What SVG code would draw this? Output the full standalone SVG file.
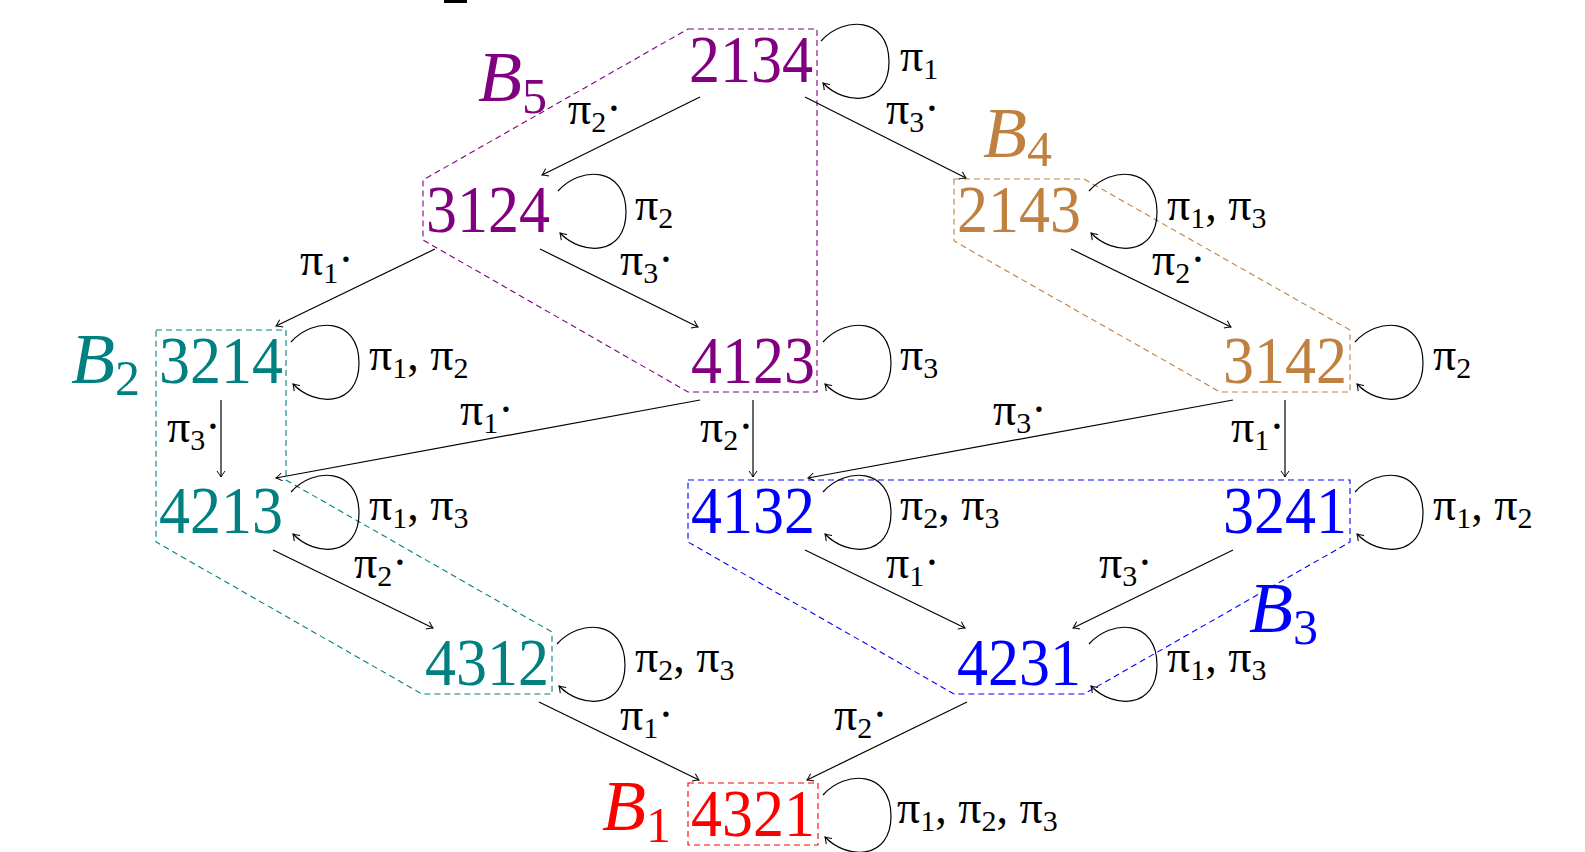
<svg xmlns="http://www.w3.org/2000/svg" width="1585" height="852" viewBox="0 0 1585 852">
<style>
.n{font-family:"Liberation Serif","Times New Roman",serif;font-size:68px;text-anchor:middle}
.l{font-family:"Liberation Serif","Times New Roman",serif;font-size:46px;fill:#000}
.s{font-size:30px}
.B{font-family:"Liberation Serif","Times New Roman",serif;font-size:72px;font-style:italic}
.bs{font-size:50px;font-style:normal}
.e{fill:none;stroke:#000;stroke-width:1.2;marker-end:url(#ah)}
.r{fill:none;stroke-width:1.1;stroke-dasharray:6 4}
</style>
<defs>
<marker id="ah" viewBox="-8 -5 10 10" refX="0" refY="0" markerWidth="10" markerHeight="10" orient="auto" markerUnits="userSpaceOnUse">
<path d="M-6,-4 Q-2,-1 0,0 Q-2,1 -6,4" fill="none" stroke="#000" stroke-width="1"/>
</marker>
</defs>
<rect x="444" y="0" width="23" height="3" fill="#000"/>

<g id="region-B5">
<path class="r" stroke="#800080" d="M688,29 L817,29 L817,392 L688,392 L423,240 L423,180 Z"/>
<text class="B" x="478" y="101" fill="#800080">B<tspan class="bs" dy="12">5</tspan></text>
</g>
<g id="region-B4">
<path class="r" stroke="#BF8040" d="M954,179 L1084,179 L1350,330 L1350,392 L1220,392 L954,241 Z"/>
<text class="B" x="983" y="157" fill="#BF8040">B<tspan class="bs" dy="9">4</tspan></text>
</g>
<g id="region-B2">
<path class="r" stroke="#008080" d="M156,330 L286,330 L286,480 L552,632 L552,694 L422,694 L156,542 Z"/>
<text class="B" x="71" y="383" fill="#008080">B<tspan class="bs" dy="12">2</tspan></text>
</g>
<g id="region-B3">
<path class="r" stroke="#0000FF" d="M688,480 L1350,480 L1350,542 L1084,694 L954,694 L688,542 Z"/>
<text class="B" x="1249" y="632" fill="#0000FF">B<tspan class="bs" dy="12">3</tspan></text>
</g>
<g id="region-B1">
<path class="r" stroke="#FF0000" d="M688,783 L818,783 L818,845 L688,845 Z"/>
<text class="B" x="602" y="830" fill="#FF0000">B<tspan class="bs" dy="12">1</tspan></text>
</g>

<g id="n2134"><text class="n" x="751" y="82" fill="#800080" textLength="124" lengthAdjust="spacingAndGlyphs">2134</text></g>
<g id="n3124"><text class="n" x="488" y="232" fill="#800080" textLength="124" lengthAdjust="spacingAndGlyphs">3124</text></g>
<g id="n2143"><text class="n" x="1019" y="232" fill="#BF8040" textLength="124" lengthAdjust="spacingAndGlyphs">2143</text></g>
<g id="n3214"><text class="n" x="221" y="383" fill="#008080" textLength="124" lengthAdjust="spacingAndGlyphs">3214</text></g>
<g id="n4123"><text class="n" x="753" y="383" fill="#800080" textLength="124" lengthAdjust="spacingAndGlyphs">4123</text></g>
<g id="n3142"><text class="n" x="1285" y="383" fill="#BF8040" textLength="124" lengthAdjust="spacingAndGlyphs">3142</text></g>
<g id="n4213"><text class="n" x="221" y="533" fill="#008080" textLength="124" lengthAdjust="spacingAndGlyphs">4213</text></g>
<g id="n4132"><text class="n" x="753" y="533" fill="#0000FF" textLength="124" lengthAdjust="spacingAndGlyphs">4132</text></g>
<g id="n3241"><text class="n" x="1285" y="533" fill="#0000FF" textLength="124" lengthAdjust="spacingAndGlyphs">3241</text></g>
<g id="n4312"><text class="n" x="487" y="685" fill="#008080" textLength="124" lengthAdjust="spacingAndGlyphs">4312</text></g>
<g id="n4231"><text class="n" x="1019" y="685" fill="#0000FF" textLength="124" lengthAdjust="spacingAndGlyphs">4231</text></g>
<g id="n4321"><text class="n" x="753" y="836" fill="#FF0000" textLength="124" lengthAdjust="spacingAndGlyphs">4321</text></g>

<g id="connectors">
<path class="e" d="M700,97 L542,175"/>
<path class="e" d="M805,97 L966,178"/>
<path class="e" d="M435,249 L276,326"/>
<path class="e" d="M540,249 L698,327"/>
<path class="e" d="M1071,249 L1231,327"/>
<path class="e" d="M221,400 L221,477"/>
<path class="e" d="M700,400 L276,478"/>
<path class="e" d="M753,400 L753,477"/>
<path class="e" d="M1233,400 L808,478"/>
<path class="e" d="M1285,400 L1285,477"/>
<path class="e" d="M273,550 L433,628"/>
<path class="e" d="M805,550 L965,628"/>
<path class="e" d="M1233,550 L1073,628"/>
<path class="e" d="M539,702 L699,780"/>
<path class="e" d="M967,702 L807,780"/>
<path class="e" d="M821,41 C843,16 889,16 889,62 C889,106 845,106 823,83"/>
<path class="e" d="M558,191 C580,166 626,166 626,212 C626,256 582,256 560,233"/>
<path class="e" d="M1089,191 C1111,166 1157,166 1157,212 C1157,256 1113,256 1091,233"/>
<path class="e" d="M291,342 C313,317 359,317 359,363 C359,407 315,407 293,384"/>
<path class="e" d="M823,342 C845,317 891,317 891,363 C891,407 847,407 825,384"/>
<path class="e" d="M1355,342 C1377,317 1423,317 1423,363 C1423,407 1379,407 1357,384"/>
<path class="e" d="M291,492 C313,467 359,467 359,513 C359,557 315,557 293,534"/>
<path class="e" d="M823,492 C845,467 891,467 891,513 C891,557 847,557 825,534"/>
<path class="e" d="M1355,492 C1377,467 1423,467 1423,513 C1423,557 1379,557 1357,534"/>
<path class="e" d="M557,644 C579,619 625,619 625,665 C625,709 581,709 559,686"/>
<path class="e" d="M1089,644 C1111,619 1157,619 1157,665 C1157,709 1113,709 1091,686"/>
<path class="e" d="M823,795 C845,770 891,770 891,816 C891,860 847,860 825,837"/>
</g>

<g id="labels">
<text class="l" x="900" y="71">π<tspan class="s" dy="8">1</tspan></text>
<text class="l" x="568" y="124">π<tspan class="s" dy="8">2</tspan><tspan dy="-8">·</tspan></text>
<text class="l" x="886" y="124">π<tspan class="s" dy="8">3</tspan><tspan dy="-8">·</tspan></text>
<text class="l" x="635" y="220">π<tspan class="s" dy="8">2</tspan></text>
<text class="l" x="1167" y="220">π<tspan class="s" dy="8">1</tspan><tspan dy="-8">, π</tspan><tspan class="s" dy="8">3</tspan></text>
<text class="l" x="300" y="275">π<tspan class="s" dy="8">1</tspan><tspan dy="-8">·</tspan></text>
<text class="l" x="620" y="275">π<tspan class="s" dy="8">3</tspan><tspan dy="-8">·</tspan></text>
<text class="l" x="1152" y="275">π<tspan class="s" dy="8">2</tspan><tspan dy="-8">·</tspan></text>
<text class="l" x="369" y="370">π<tspan class="s" dy="8">1</tspan><tspan dy="-8">, π</tspan><tspan class="s" dy="8">2</tspan></text>
<text class="l" x="900" y="370">π<tspan class="s" dy="8">3</tspan></text>
<text class="l" x="1433" y="370">π<tspan class="s" dy="8">2</tspan></text>
<text class="l" x="167" y="442">π<tspan class="s" dy="8">3</tspan><tspan dy="-8">·</tspan></text>
<text class="l" x="460" y="425">π<tspan class="s" dy="8">1</tspan><tspan dy="-8">·</tspan></text>
<text class="l" x="700" y="442">π<tspan class="s" dy="8">2</tspan><tspan dy="-8">·</tspan></text>
<text class="l" x="993" y="425">π<tspan class="s" dy="8">3</tspan><tspan dy="-8">·</tspan></text>
<text class="l" x="1231" y="442">π<tspan class="s" dy="8">1</tspan><tspan dy="-8">·</tspan></text>
<text class="l" x="369" y="520">π<tspan class="s" dy="8">1</tspan><tspan dy="-8">, π</tspan><tspan class="s" dy="8">3</tspan></text>
<text class="l" x="900" y="520">π<tspan class="s" dy="8">2</tspan><tspan dy="-8">, π</tspan><tspan class="s" dy="8">3</tspan></text>
<text class="l" x="1433" y="520">π<tspan class="s" dy="8">1</tspan><tspan dy="-8">, π</tspan><tspan class="s" dy="8">2</tspan></text>
<text class="l" x="354" y="578">π<tspan class="s" dy="8">2</tspan><tspan dy="-8">·</tspan></text>
<text class="l" x="886" y="578">π<tspan class="s" dy="8">1</tspan><tspan dy="-8">·</tspan></text>
<text class="l" x="1099" y="578">π<tspan class="s" dy="8">3</tspan><tspan dy="-8">·</tspan></text>
<text class="l" x="635" y="672">π<tspan class="s" dy="8">2</tspan><tspan dy="-8">, π</tspan><tspan class="s" dy="8">3</tspan></text>
<text class="l" x="1167" y="672">π<tspan class="s" dy="8">1</tspan><tspan dy="-8">, π</tspan><tspan class="s" dy="8">3</tspan></text>
<text class="l" x="620" y="730">π<tspan class="s" dy="8">1</tspan><tspan dy="-8">·</tspan></text>
<text class="l" x="834" y="730">π<tspan class="s" dy="8">2</tspan><tspan dy="-8">·</tspan></text>
<text class="l" x="897" y="823">π<tspan class="s" dy="8">1</tspan><tspan dy="-8">, π</tspan><tspan class="s" dy="8">2</tspan><tspan dy="-8">, π</tspan><tspan class="s" dy="8">3</tspan></text>
</g>
</svg>
